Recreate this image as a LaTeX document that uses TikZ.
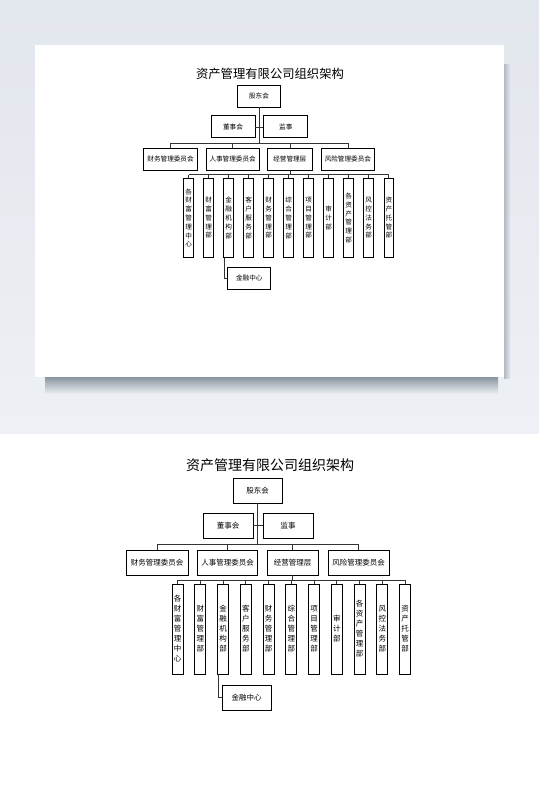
\documentclass[tikz,border=0pt]{standalone}
\usepackage{fontspec}
\setmainfont{Noto Sans CJK SC}
\usepackage{xcolor}
\usepackage{tikz}
\usetikzlibrary{calc}
\definecolor{pagebg}{HTML}{E2E6ED}
\definecolor{pagebglight}{HTML}{EDF0F4}
\definecolor{shadowgray}{HTML}{8A959F}
\definecolor{sidegray}{HTML}{B3BAC3}

\tikzset{
  box/.style={draw=black, line width=0.9pt, fill=white, inner sep=0pt, font=\fontsize{7.5}{9}\selectfont},
  hbox/.style={box, minimum height=25pt},
  vbox/.style={box, minimum width=11pt, minimum height=90pt, align=center, font=\fontsize{7.5}{10}\selectfont},
  link/.style={draw=black!80, line width=0.6pt},
}

% one copy of the chart, centred on the 股东会 box
\newcommand{\orgchart}{%
  \node (title) at (12.5,-25.5) {\fontsize{14}{14}\selectfont 资产管理有限公司组织架构};
  \node[hbox, minimum width=49pt] (gd) at (0,0) {股东会};
  \node[hbox, minimum width=50pt] (ds) at (-29.5,35) {董事会};
  \node[hbox, minimum width=50pt] (js) at (30.5,35) {监事};
  \node[hbox, minimum width=62pt] (cw) at (-100.5,72) {财务管理委员会};
  \node[hbox, minimum width=60pt] (rs) at (-30,72) {人事管理委员会};
  \node[hbox, minimum width=51pt] (jy) at (35,72) {经营管理层};
  \node[hbox, minimum width=61pt] (fx) at (101,72) {风险管理委员会};
  \foreach \t [count=\i] in {{各\\财\\富\\管\\理\\中\\心}, {财\\富\\管\\理\\部},
      {金\\融\\机\\构\\部}, {客\\户\\服\\务\\部}, {财\\务\\管\\理\\部},
      {综\\合\\管\\理\\部}, {项\\目\\管\\理\\部}, {审\\计\\部},
      {各\\资\\产\\管\\理\\部}, {风\\控\\法\\务\\部}, {资\\产\\托\\管\\部}}
    \node[vbox] (d\i) at ({-80+(\i-1)*22.75},138.5) {\t};
  \node[hbox, minimum width=49pt] (jc) at (-11,207) {金融中心};
  % connectors
  \coordinate (b3) at (0,53.5);
  \coordinate (b4) at (0,89.5);
  \draw[link] (gd.south) -- (gd.south |- b3);
  \draw[link] (ds.east) -- (js.west);
  \draw[link] (cw.north |- b3) -- (fx.north |- b3);
  \foreach \n in {cw,rs,jy,fx}
    \draw[link] (\n.north) -- (\n.north |- b3);
  \draw[link] (jy.south) -- (jy.south |- b4);
  \draw[link] (d1.north |- b4) -- (d11.north |- b4);
  \foreach \i in {1,...,11}
    \draw[link] (d\i.north) -- (d\i.north |- b4);
  \draw[link] ([xshift=1.5pt]d3.south west) |- (jc.west);
}

\begin{document}
\begin{tikzpicture}[x=1pt, y=-1pt]
  \useasboundingbox (0,0) rectangle (539,812);
  \fill[white] (0,0) rectangle (539,812);
  % mock-up background and card
  \shade[top color=pagebg, bottom color=pagebglight] (0,0) rectangle (539,433);
  \shade[top color=shadowgray, bottom color=pagebglight] (45,377) rectangle (498,394);
  \shade[left color=sidegray, right color=pagebg] (504,64) rectangle (510,378);
  \fill[white] (35,45) rectangle (504,377);

  \begin{scope}[shift={(259,96)}, scale=0.88, transform shape, name prefix=top-]
    \orgchart
  \end{scope}
  \begin{scope}[shift={(257.5,490.5)}, name prefix=bot-]
    \orgchart
  \end{scope}
\end{tikzpicture}
\end{document}
